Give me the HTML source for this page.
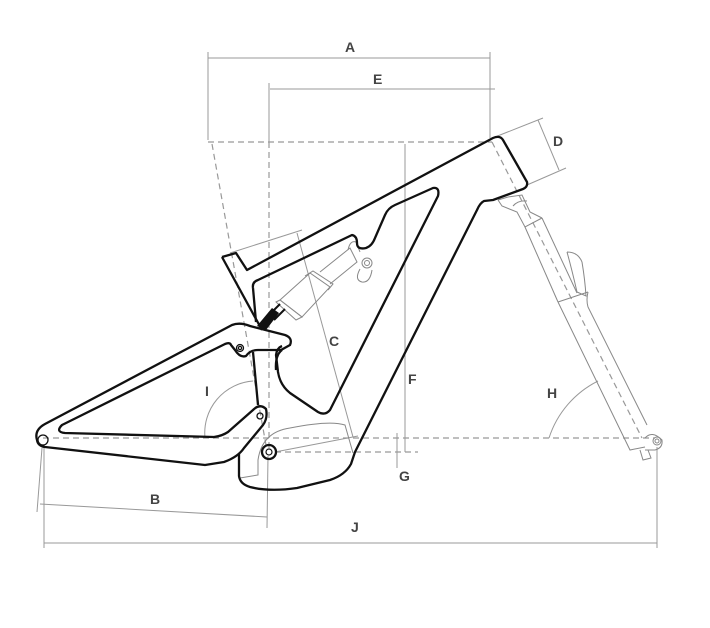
<!DOCTYPE html>
<html><head><meta charset="utf-8"><style>
html,body{margin:0;padding:0;background:#fff;}
svg{display:block;}
text{font-family:"Liberation Sans",sans-serif;font-weight:bold;font-size:14px;fill:#444;}
</style></head><body>
<svg width="710" height="628" viewBox="0 0 710 628" xmlns="http://www.w3.org/2000/svg">
<g fill="none" stroke="#999" stroke-width="1">
  <line x1="208" y1="52" x2="208" y2="140"/>
  <line x1="490" y1="52" x2="490" y2="138"/>
  <line x1="208" y1="58" x2="490" y2="58"/>
  <line x1="269" y1="83" x2="269" y2="142"/>
  <line x1="270" y1="89" x2="495" y2="89"/>
  <line x1="405" y1="144" x2="405" y2="452"/>
  <line x1="397" y1="433" x2="397" y2="468"/>
  <line x1="230" y1="253" x2="302" y2="230"/>
  <line x1="297" y1="233" x2="353" y2="437"/>
  <line x1="275" y1="452" x2="358" y2="436"/>
  <line x1="495" y1="137" x2="543" y2="118"/>
  <line x1="527" y1="185" x2="566" y2="168"/>
  <line x1="538" y1="120" x2="559" y2="170"/>
  <line x1="42" y1="448" x2="37" y2="512"/>
  <line x1="40" y1="504" x2="267" y2="517"/>
  <line x1="268" y1="456" x2="267" y2="528"/>
  <line x1="44" y1="448" x2="44" y2="548"/>
  <line x1="657" y1="447" x2="657" y2="548"/>
  <line x1="44" y1="543" x2="657" y2="543"/>
  <path d="M205,438 A52,52 0 0 1 253,381"/>
  <path d="M549,438 A97,97 0 0 1 598,381"/>
</g>
<g fill="none" stroke="#999" stroke-width="1.2" stroke-dasharray="6,4">
  <line x1="208" y1="142" x2="492" y2="142"/>
  <line x1="212" y1="144" x2="266" y2="445"/>
  <line x1="269" y1="142" x2="269" y2="450"/>
  <line x1="43" y1="438" x2="655" y2="438"/>
  <line x1="275" y1="452" x2="418" y2="452"/>
  <line x1="492" y1="142" x2="642" y2="438"/>
</g>
<g fill="none" stroke="#888" stroke-width="1">
  <!-- shock -->
  <path d="M280,300 L310,273 L330,287 L302,317 Z"/>
  <path d="M305,276 L313,271 L333,284 L328,290"/>
  <path d="M320,272 L350,248 L357,262 L330,284"/>
  <path d="M348,250 Q350,240 356,242 L360,252"/>
  <circle cx="367" cy="263" r="5"/>
  <circle cx="367" cy="263" r="2.5"/>
  <path d="M360,269 Q354,280 362,282 Q370,283 372,270"/>
  <path d="M276,302 L280,300 L302,317 L296,320 Z"/>
  <!-- fork -->
  <path d="M498,200 L508,197 L522,195 L530,212 L542,218"/>
  <path d="M498,200 L502,206 L517,212 L525,227 L542,218"/>
  <path d="M513,206 Q518,200 527,201"/>
  <path d="M525,227 L558,302"/>
  <path d="M542,218 L577,293"/>
  <path d="M558,302 L588,292"/>
  <path d="M558,302 L630,450 L645,447"/>
  <path d="M588,292 Q586,300 588,307 L647,425"/>
  <path d="M567,252 Q578,252 582,262 Q585,280 586,296 L577,292 Q572,270 567,252"/>
  <path d="M645,438 Q652,430 662,440 Q663,448 655,450 L645,450"/>
  <path d="M640,450 L643,460 L651,458 L648,450"/>
  <circle cx="657" cy="441" r="4"/>
  <circle cx="657" cy="441" r="2"/>
  <!-- motor -->
  <path d="M290,428 Q330,420 345,425 L353,453"/>
  <path d="M290,428 Q262,432 258,460 L258,475 L240,478"/>
</g>
<g fill="none" stroke="#111" stroke-width="2.3" stroke-linejoin="round">
  <path d="M222,257 L236,253 L247,270 L493,138 Q500,135 503,140 L527,182 Q528,187 523,189 L493,200 L484,201 Q480,203 477,210 L355,452 L351,464 Q345,475 330,480 L297,488 Q270,492 250,487 Q240,484 239,476 L239,454"/>
  <path d="M222,257 L262,330"/>
  <path d="M253,352 L258,405"/>
  <path d="M253,288 Q252,282 258,280 L352,235 Q357,236 357,243 Q357,250 366,248 Q372,246 375,238 L385,215 Q388,208 395,205 L433,188 Q440,187 438,196 L330,410 Q325,416 318,412 L290,393 Q280,385 278,372 L276,355 Q277,348 282,346"/>
  <path d="M253,288 L256,322"/>
  <path d="M37,440 Q34,430 45,424 L232,325 Q240,322 250,326 L285,335 Q293,338 290,345 L281,350 L258,350 Q250,350 246,356 Q240,358 235,350 L231,345 Q230,342 225,344 L62,425 Q55,432 65,433 L214,437 Q222,436 228,432 L253,410 Q260,403 266,409 Q268,418 263,425 L244,448 Q238,457 224,462 L205,465 L45,447 Q38,446 37,440 Z"/>
  <path d="M282,350 Q275,355 276,370"/>
</g>
<g fill="none" stroke="#111" stroke-width="1.3">
  <circle cx="43" cy="440" r="5"/>
  <circle cx="260" cy="416" r="3"/>
  <circle cx="240" cy="348" r="3.5"/>
  <circle cx="240" cy="348" r="1.6"/>
</g>
<circle cx="269" cy="452" r="7" fill="none" stroke="#111" stroke-width="2.3"/>
<circle cx="269" cy="452" r="3" fill="none" stroke="#111" stroke-width="1.2"/>
<path d="M257,326 L272,308 L279,313 L266,330 Z" fill="#111"/>
<path d="M268,316 L280,304 M274,320 L285,309" stroke="#111" stroke-width="2"/>
<g>
  <text x="345" y="52">A</text>
  <text x="373" y="84">E</text>
  <text x="553" y="146">D</text>
  <text x="329" y="346">C</text>
  <text x="408" y="384">F</text>
  <text x="399" y="481">G</text>
  <text x="547" y="398">H</text>
  <text x="205" y="396">I</text>
  <text x="150" y="504">B</text>
  <text x="351" y="532">J</text>
</g>
</svg>
</body></html>
